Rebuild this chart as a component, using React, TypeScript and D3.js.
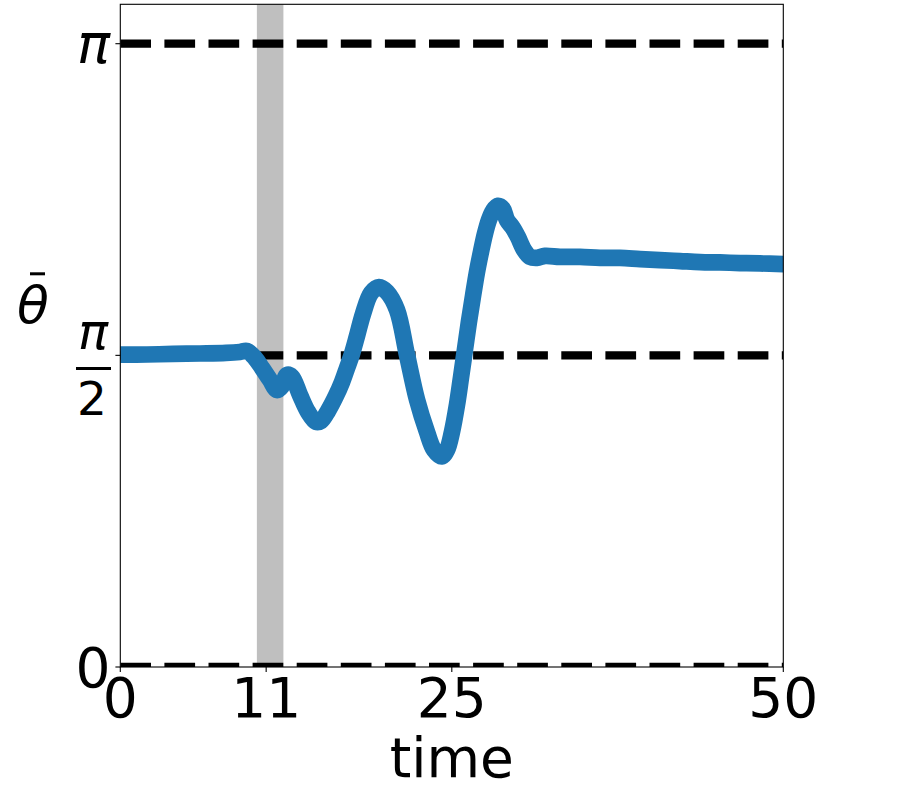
import * as d3 from "d3";

// values
const times = [
  0, 2.01, 3.97, 6.01, 7.97, 9.03, 9.56, 10.16, 10.69, 11.29, 11.82, 12.19,
  12.57, 12.95, 13.55, 14.16, 14.76, 15.14, 15.66, 16.26, 16.72, 17.1, 17.47,
  17.85, 18.3, 18.91, 19.51, 20.11, 20.87, 21.62, 22.38, 23.13, 23.66, 24.24,
  24.64, 25.01, 25.39, 25.69, 25.99, 26.29, 26.6, 26.9, 27.2, 27.5, 27.8, 28.1,
  28.48, 28.86, 29.16, 29.61, 29.99, 30.45, 30.9, 31.43, 32.03, 33.16, 34.67,
  36.18, 37.69, 39.2, 40.7, 42.21, 43.72, 45.23, 46.73, 48.24, 50,
];
const thetaBar = [
  1.574, 1.575, 1.578, 1.58, 1.583, 1.588, 1.593, 1.557, 1.507, 1.447, 1.396,
  1.416, 1.472, 1.462, 1.371, 1.285, 1.235, 1.24, 1.29, 1.366, 1.436, 1.507,
  1.578, 1.668, 1.779, 1.885, 1.915, 1.89, 1.799, 1.573, 1.346, 1.184, 1.094,
  1.061, 1.094, 1.184, 1.321, 1.457, 1.598, 1.739, 1.87, 1.991, 2.092, 2.183,
  2.253, 2.298, 2.324, 2.308, 2.253, 2.213, 2.167, 2.102, 2.067, 2.062, 2.072,
  2.067, 2.067, 2.062, 2.062, 2.056, 2.051, 2.046, 2.041, 2.039, 2.036, 2.034,
  2.031,
];
const xTicks = [0, 11, 25, 50];
const refLevels = [0, Math.PI / 2, Math.PI];
const kickWindow = [10.3, 12.3];

const FONT = "DejaVu Sans";

export default function App() {
  const x = d3.scaleLinear().domain([0, 50]).range([120.3, 783.3]);
  const y = d3.scaleLinear().domain([0, Math.PI]).range([667, 43.7]);
  const [x0, x1] = x.range();
  const bottom = y(0);
  const top = 4.3; // axes extend a bit above pi

  const line = d3
    .line<number>()
    .x((_, i) => x(times[i]))
    .y((d) => y(d))
    .curve(d3.curveCatmullRom.alpha(0.5));

  return (
    <svg
      width={902}
      height={790}
      style={{ position: "absolute", left: 0, top: 0, background: "#fff" }}
      fontFamily={FONT}
    >
      <defs>
        <clipPath id="plotArea">
          <rect x={x0} y={top} width={x1 - x0} height={bottom - top} />
        </clipPath>
      </defs>

      <g clipPath="url(#plotArea)">
        <rect
          x={x(kickWindow[0])}
          y={top}
          width={x(kickWindow[1]) - x(kickWindow[0])}
          height={bottom - top}
          fill="#bfbfbf"
        />
        {refLevels.map((v) => (
          <line
            key={v}
            x1={x0}
            x2={x1}
            y1={y(v)}
            y2={y(v)}
            stroke="#000"
            strokeWidth={8.3}
            strokeDasharray="30.7 13.4"
          />
        ))}
        <path
          d={line(thetaBar) ?? ""}
          fill="none"
          stroke="#1f77b4"
          strokeWidth={16.7}
          strokeLinejoin="round"
          strokeLinecap="square"
        />
      </g>

      {/* frame */}
      <rect
        x={x0}
        y={top}
        width={x1 - x0}
        height={bottom - top}
        fill="none"
        stroke="#000"
        strokeWidth={1.1}
      />

      {/* x axis */}
      {xTicks.map((t) => (
        <g key={t}>
          <line x1={x(t)} x2={x(t)} y1={bottom} y2={bottom + 4.9} stroke="#000" strokeWidth={1.1} />
          <text x={x(t)} y={717} textAnchor="middle" fontSize={55}>
            {t}
          </text>
        </g>
      ))}
      <text x={(x0 + x1) / 2} y={777} textAnchor="middle" fontSize={55}>
        time
      </text>

      {/* y axis */}
      {refLevels.map((v) => (
        <line key={v} x1={x0 - 4.9} x2={x0} y1={y(v)} y2={y(v)} stroke="#000" strokeWidth={1.1} />
      ))}
      <text x={110.5} y={686.5} textAnchor="end" fontSize={55}>
        0
      </text>
      <text x={110} y={63} textAnchor="end" fontSize={55} fontStyle="italic">
        π
      </text>
      <text x={93} y={349} textAnchor="middle" fontSize={50} fontStyle="italic">
        π
      </text>
      <rect x={76} y={367} width={35} height={3} fill="#000" />
      <text x={92} y={415} textAnchor="middle" fontSize={47}>
        2
      </text>

      {/* y label */}
      <text x={33} y={323} textAnchor="middle" fontSize={52} fontStyle="italic">
        θ
      </text>
      <rect x={30} y={272.3} width={15} height={3} fill="#000" />
    </svg>
  );
}
